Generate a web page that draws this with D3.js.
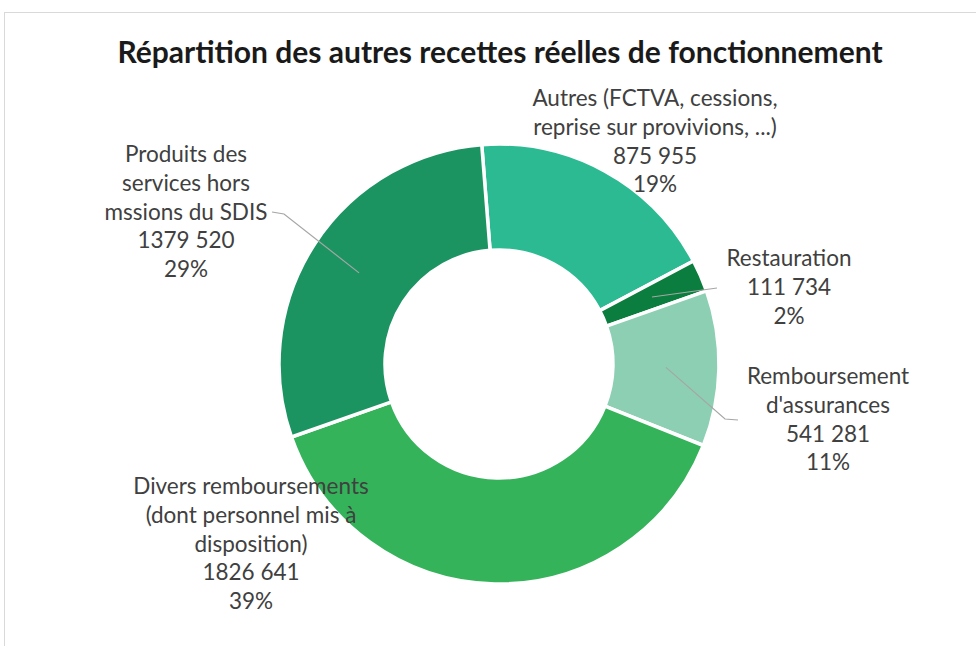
<!DOCTYPE html>
<html>
<head>
<meta charset="utf-8">
<script src="https://cdn.jsdelivr.net/npm/d3@7"></script>
<style>
  html, body { margin: 0; padding: 0; background: #fff; }
  svg { display: block; }
</style>
</head>
<body>
<svg id="chart" width="976" height="646"></svg>
<script>
// ---- DATA ----
const title = "Répartition des autres recettes réelles de fonctionnement";
const categories = [
  "Autres (FCTVA, cessions, reprise sur provivions, ...)",
  "Restauration",
  "Remboursement d'assurances",
  "Divers remboursements (dont personnel mis à disposition)",
  "Produits des services hors mssions du SDIS"
];
const values = [875955, 111734, 541281, 1826641, 1379520];
const valueLabels = ["875 955", "111 734", "541 281", "1826 641", "1379 520"];
const percentLabels = ["19%", "2%", "11%", "39%", "29%"];
const nameLines = [
  ["Autres (FCTVA, cessions,", "reprise sur provivions, ...)"],
  ["Restauration"],
  ["Remboursement", "d'assurances"],
  ["Divers remboursements", "(dont personnel mis à", "disposition)"],
  ["Produits des", "services hors", "mssions du SDIS"]
];
const colors = ["#2bba92", "#0b7d3e", "#8dcfb3", "#35b35a", "#1b9461"];

// ---- LAYOUT ----
const W = 976, H = 646;
const cx = 499, cy = 364, rOuter = 220, rInner = 114;
const startOffset = -4.5 * Math.PI / 180;
const lineH = 28.8;
const labelLayout = [
  { x: 655, y: 106, leader: null },
  { x: 789, y: 266, leader: [[717, 288]] },
  { x: 828, y: 384, leader: [[725, 419], [738, 420]] },
  { x: 251, y: 494, leader: null },
  { x: 186, y: 162, leader: [[284, 214], [272, 212]] }
];

const svg = d3.select("#chart");

// frame
svg.append("line").attr("x1", 4).attr("y1", 12.5).attr("x2", W).attr("y2", 12.5)
  .attr("stroke", "#d9d9d9").attr("stroke-width", 1);
svg.append("line").attr("x1", 4.5).attr("y1", 12).attr("x2", 4.5).attr("y2", H)
  .attr("stroke", "#d9d9d9").attr("stroke-width", 1);

// title
svg.append("text")
  .attr("x", 500).attr("y", 63)
  .attr("text-anchor", "middle")
  .attr("font-family", "Lato, 'Open Sans', sans-serif")
  .attr("font-weight", "bold")
  .attr("font-size", 30)
  .attr("fill", "#1a1a1a")
  .text(title);

const pie = d3.pie().sort(null).value(d => d)
  .startAngle(startOffset).endAngle(startOffset + 2 * Math.PI);
const arcs = pie(values);
const arc = d3.arc().innerRadius(rInner).outerRadius(rOuter);

const g = svg.append("g").attr("transform", `translate(${cx},${cy})`);
g.selectAll("path.slice").data(arcs).join("path")
  .attr("class", "slice")
  .attr("d", arc)
  .attr("fill", (d, i) => colors[i])
  .attr("stroke", "#fff")
  .attr("stroke-width", 3.5)
  .attr("stroke-linejoin", "round");

// leader lines
arcs.forEach((d, i) => {
  const L = labelLayout[i];
  if (!L.leader) return;
  const c = arc.centroid(d);
  const pts = [[cx + c[0], cy + c[1]]].concat(L.leader);
  svg.append("path")
    .attr("d", d3.line()(pts))
    .attr("fill", "none")
    .attr("stroke", "#a6a6a6")
    .attr("stroke-width", 1.2);
});

// labels
arcs.forEach((d, i) => {
  const L = labelLayout[i];
  const lines = nameLines[i].concat([valueLabels[i], percentLabels[i]]);
  const t = svg.append("text")
    .attr("text-anchor", "middle")
    .attr("font-family", "Lato, 'Open Sans', sans-serif")
    .attr("font-size", 22.5)
    .attr("fill", "#404040");
  lines.forEach((ln, k) => {
    t.append("tspan").attr("x", L.x).attr("y", L.y + k * lineH).text(ln);
  });
});
</script>
</body>
</html>
